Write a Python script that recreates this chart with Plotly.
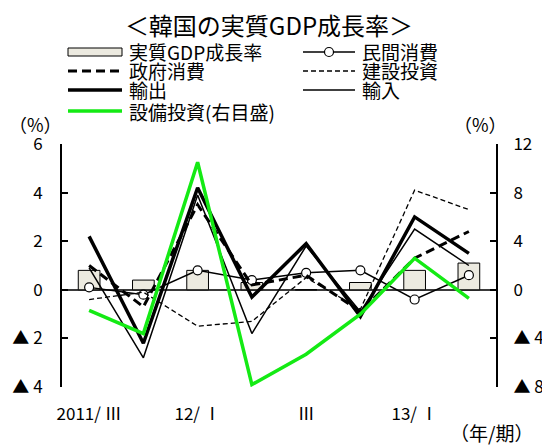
import plotly.graph_objects as go

# ---- data ----
quarters = ["2011Q3", "2011Q4", "2012Q1", "2012Q2", "2012Q3", "2012Q4", "2013Q1", "2013Q2"]
tick_labels = ["2011/ Ⅲ", "", "12/ Ⅰ", "", "Ⅲ", "", "13/ Ⅰ", ""]
gdp = [0.8, 0.4, 0.8, 0.3, 0.0, 0.3, 0.8, 1.1]
private_cons = [0.1, -0.2, 0.8, 0.4, 0.7, 0.8, -0.4, 0.6]
gov_cons = [1.0, -0.7, 3.5, 0.2, 0.6, -0.9, 1.3, 2.4]
construction = [-0.4, -0.1, -1.5, -1.3, 0.5, -0.8, 4.1, 3.3]
exports = [2.2, -2.2, 4.2, -0.3, 1.9, -1.1, 3.0, 1.5]
imports = [0.9, -2.8, 3.9, -1.8, 1.8, -0.9, 2.5, 1.0]
equipment = [-1.7, -3.6, 10.5, -7.8, -5.3, -2.0, 2.6, -0.7]

left_ticks = [-4, -2, 0, 2, 4, 6]
left_ticktext = ["▲ 4", "▲ 2", "0", "2", "4", "6"]
right_ticks = [-8, -4, 0, 4, 8, 12]
right_ticktext = ["▲ 8", "▲ 4", "0", "4", "8", "12"]

names = ["実質GDP成長率", "民間消費", "政府消費", "建設投資", "輸出", "輸入", "設備投資(右目盛)"]

FONT = "Noto Sans CJK JP"
GREEN = "#14EA14"
BAR_FILL = "#ECEAE0"

# page body has an 8px margin: size the figure to fit and work in window pixels
OFF = 8
W, H = 550 - OFF, 446 - OFF
PLOT_L, PLOT_R, PLOT_T, PLOT_B = 62, 496, 144, 387  # window pixels
ML, MR, MT, MB = PLOT_L - OFF, W - (PLOT_R - OFF), PLOT_T - OFF, H - (PLOT_B - OFF)
PW, PH = PLOT_R - PLOT_L, PLOT_B - PLOT_T


def px(x):
    return (x - PLOT_L) / PW


def py(y):
    return (PLOT_B - y) / PH


x = list(range(len(quarters)))

fig = go.Figure()
fig.add_trace(go.Bar(x=x, y=gdp, name=names[0], marker=dict(color=BAR_FILL, line=dict(color="black", width=1)),
                     width=0.4, showlegend=False))
fig.add_trace(go.Scatter(x=x, y=private_cons, name=names[1], mode="lines+markers",
                         line=dict(color="black", width=1.5),
                         marker=dict(symbol="circle", size=9, color="white", line=dict(color="black", width=1.2)),
                         showlegend=False))
fig.add_trace(go.Scatter(x=x, y=gov_cons, name=names[2], mode="lines",
                         line=dict(color="black", width=3, dash="9px,5px"), showlegend=False))
fig.add_trace(go.Scatter(x=x, y=construction, name=names[3], mode="lines",
                         line=dict(color="black", width=1.3, dash="5px,3px"), showlegend=False))
fig.add_trace(go.Scatter(x=x, y=exports, name=names[4], mode="lines",
                         line=dict(color="black", width=3.5), showlegend=False))
fig.add_trace(go.Scatter(x=x, y=imports, name=names[5], mode="lines",
                         line=dict(color="black", width=1.5), showlegend=False))
fig.add_trace(go.Scatter(x=x, y=equipment, name=names[6], mode="lines", yaxis="y2",
                         line=dict(color=GREEN, width=3.5), showlegend=False))

# ---- hand-built legend (two columns) ----
shapes = []
annotations = []
legend_specs = [
    # (name index, symbol x0, x1, text x, row y, style)  -- window pixels
    (0, 68, 122, 127, 52, "bar"),
    (1, 303, 355, 360, 52, "circle"),
    (2, 68, 122, 127, 71, "dash_thick"),
    (3, 303, 355, 360, 71, "dash_thin"),
    (4, 68, 122, 127, 90, "solid_thick"),
    (5, 303, 355, 360, 90, "solid_thin"),
    (6, 68, 122, 127, 111, "green"),
]
for idx, x0, x1, tx, yy, style in legend_specs:
    if style == "bar":
        shapes.append(dict(type="rect", xref="paper", yref="paper", x0=px(x0), x1=px(x1), y0=py(yy + 4),
                           y1=py(yy - 4), fillcolor=BAR_FILL, line=dict(color="black", width=1)))
    else:
        lw, dash, col = {
            "circle": (1.5, "solid", "black"),
            "dash_thick": (3, "9px,5px", "black"),
            "dash_thin": (1.3, "5px,3px", "black"),
            "solid_thick": (3.5, "solid", "black"),
            "solid_thin": (1.5, "solid", "black"),
            "green": (3.5, "solid", GREEN),
        }[style]
        shapes.append(dict(type="line", xref="paper", yref="paper", x0=px(x0), x1=px(x1), y0=py(yy), y1=py(yy),
                           line=dict(color=col, width=lw, dash=dash)))
        if style == "circle":
            cx = (x0 + x1) / 2
            shapes.append(dict(type="circle", xref="paper", yref="paper", x0=px(cx - 4.5), x1=px(cx + 4.5),
                               y0=py(yy + 4.5), y1=py(yy - 4.5), fillcolor="white",
                               line=dict(color="black", width=1.2)))
    annotations.append(dict(text=names[idx], xref="paper", yref="paper", x=px(tx), y=py(yy),
                            xanchor="left", yanchor="middle", showarrow=False,
                            font=dict(family=FONT, size=19, color="black")))

annotations += [
    dict(text="（%）", xref="paper", yref="paper", x=px(35), y=py(124), xanchor="center", yanchor="middle",
         showarrow=False, font=dict(family=FONT, size=18, color="black")),
    dict(text="（%）", xref="paper", yref="paper", x=px(480), y=py(124), xanchor="center", yanchor="middle",
         showarrow=False, font=dict(family=FONT, size=18, color="black")),
    dict(text="（年/期）", xref="paper", yref="paper", x=px(491), y=py(432), xanchor="center", yanchor="middle",
         showarrow=False, font=dict(family=FONT, size=19, color="black")),
]

fig.update_layout(
    width=W, height=H,
    margin=dict(l=ML, r=MR, t=MT, b=MB, autoexpand=False),
    paper_bgcolor="white", plot_bgcolor="white",
    font=dict(family=FONT, size=17, color="black"),
    title=dict(text="＜韓国の実質GDP成長率＞", x=(269 - OFF) / W, xanchor="center", y=1 - (27 - OFF) / H,
               yanchor="middle", yref="container", font=dict(family=FONT, size=24, color="black")),
    showlegend=False,
    barmode="overlay",
    xaxis=dict(range=[-0.5, 7.5], tickvals=x, ticktext=tick_labels, showline=False, showgrid=False,
               zeroline=False, ticks="", ticklabelstandoff=15, tickfont=dict(size=17), automargin=False),
    yaxis=dict(range=[-4, 6], tickvals=left_ticks, ticktext=left_ticktext, showgrid=False,
               showline=True, linecolor="black", linewidth=2, ticks="inside", ticklen=6, tickwidth=2,
               tickcolor="black", zeroline=True, zerolinecolor="#3a3a3a", zerolinewidth=1.5,
               ticklabelstandoff=14, tickfont=dict(size=17), automargin=False),
    yaxis2=dict(range=[-8, 12], tickvals=right_ticks, ticktext=right_ticktext, overlaying="y", side="right",
                showgrid=False, showline=True, linecolor="black", linewidth=2, ticks="inside", ticklen=6,
                tickwidth=2, tickcolor="black", zeroline=False, ticklabelstandoff=12, tickfont=dict(size=17),
                automargin=False),
    shapes=shapes,
    annotations=annotations,
)

fig.write_html("out.html")
